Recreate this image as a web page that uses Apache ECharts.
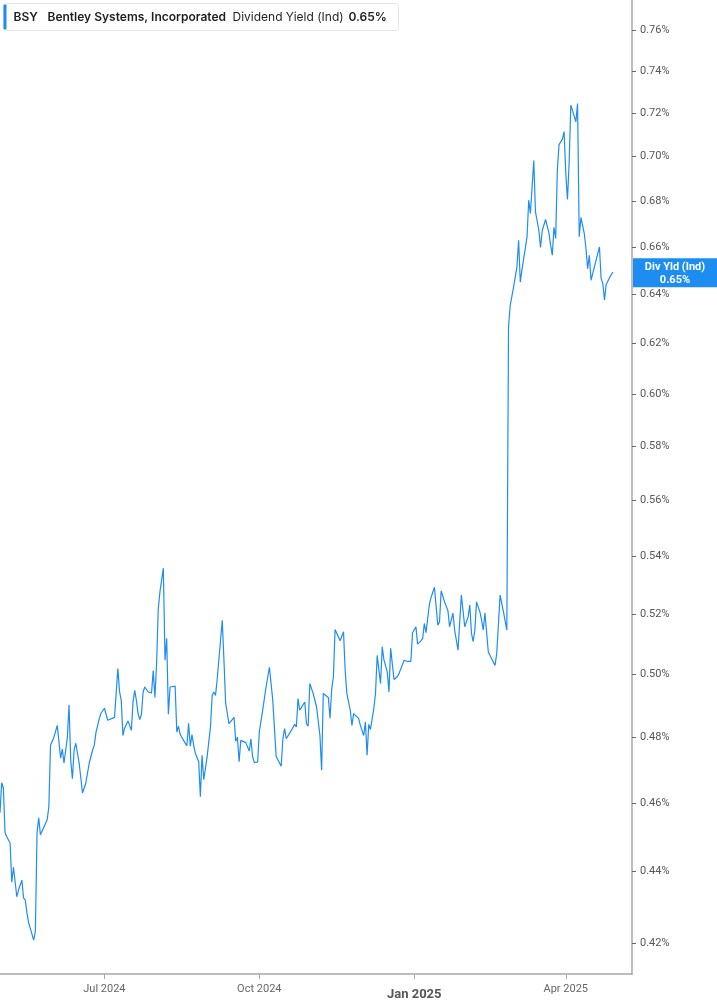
<!DOCTYPE html>
<html>
<head>
<meta charset="utf-8">
<title>BSY Dividend Yield</title>
<script src="https://cdn.jsdelivr.net/npm/echarts@6/dist/echarts.min.js"></script>
<style>
  html, body { margin: 0; padding: 0; background: #fff; }
  #chart { width: 717px; height: 1005px; }
</style>
</head>
<body>
<div id="chart"></div>
<script>
// dividend yield (ind), in percent
const dates = [
  '2024-04-30','2024-05-01','2024-05-02','2024-05-03','2024-05-04','2024-05-06','2024-05-07','2024-05-08','2024-05-10','2024-05-11',
  '2024-05-13','2024-05-14','2024-05-15','2024-05-16','2024-05-17','2024-05-20','2024-05-21','2024-05-22','2024-05-23','2024-05-24',
  '2024-05-28','2024-05-29','2024-05-30','2024-05-31','2024-06-01','2024-06-03','2024-06-04','2024-06-05','2024-06-06','2024-06-07',
  '2024-06-09','2024-06-10','2024-06-11','2024-06-12','2024-06-13','2024-06-14','2024-06-16','2024-06-17','2024-06-18','2024-06-20',
  '2024-06-21','2024-06-22','2024-06-24','2024-06-25','2024-06-26','2024-06-28','2024-06-29','2024-07-01','2024-07-03','2024-07-04',
  '2024-07-07','2024-07-08','2024-07-09','2024-07-10','2024-07-11','2024-07-12','2024-07-13','2024-07-15','2024-07-17','2024-07-18',
  '2024-07-19','2024-07-20','2024-07-21','2024-07-22','2024-07-23','2024-07-24','2024-07-25','2024-07-27','2024-07-29','2024-07-30',
  '2024-07-31','2024-08-01','2024-08-02','2024-08-03','2024-08-05','2024-08-06','2024-08-07','2024-08-08','2024-08-09','2024-08-12',
  '2024-08-13','2024-08-14','2024-08-15','2024-08-17','2024-08-19','2024-08-20','2024-08-21','2024-08-22','2024-08-23','2024-08-24',
  '2024-08-26','2024-08-27','2024-08-28','2024-08-29','2024-08-30','2024-08-31','2024-09-02','2024-09-03','2024-09-04','2024-09-05',
  '2024-09-06','2024-09-09','2024-09-10','2024-09-11','2024-09-12','2024-09-13','2024-09-16','2024-09-17','2024-09-18','2024-09-19',
  '2024-09-20','2024-09-23','2024-09-24','2024-09-25','2024-09-26','2024-09-27','2024-09-28','2024-09-30','2024-10-01','2024-10-02',
  '2024-10-03','2024-10-05','2024-10-07','2024-10-09','2024-10-11','2024-10-14','2024-10-15','2024-10-16','2024-10-17','2024-10-20',
  '2024-10-22','2024-10-23','2024-10-24','2024-10-25','2024-10-28','2024-10-29','2024-10-30','2024-10-31','2024-11-02','2024-11-04',
  '2024-11-06','2024-11-07','2024-11-08','2024-11-11','2024-11-12','2024-11-13','2024-11-14','2024-11-15','2024-11-17','2024-11-18',
  '2024-11-20','2024-11-21','2024-11-22','2024-11-24','2024-11-25','2024-11-26','2024-11-27','2024-11-29','2024-11-30','2024-12-02',
  '2024-12-03','2024-12-04','2024-12-05','2024-12-06','2024-12-08','2024-12-09','2024-12-10','2024-12-11','2024-12-12','2024-12-13',
  '2024-12-14','2024-12-16','2024-12-17','2024-12-18','2024-12-20','2024-12-22','2024-12-23','2024-12-24','2024-12-26','2024-12-28',
  '2024-12-30','2024-12-31','2025-01-02','2025-01-03','2025-01-05','2025-01-06','2025-01-07','2025-01-08','2025-01-10','2025-01-11',
  '2025-01-13','2025-01-15','2025-01-16','2025-01-17','2025-01-19','2025-01-21','2025-01-22','2025-01-24','2025-01-25','2025-01-27',
  '2025-01-29','2025-01-31','2025-02-02','2025-02-03','2025-02-04','2025-02-05','2025-02-06','2025-02-07','2025-02-09','2025-02-10',
  '2025-02-11','2025-02-12','2025-02-14','2025-02-16','2025-02-18','2025-02-19','2025-02-21','2025-02-23','2025-02-25','2025-02-26',
  '2025-02-27','2025-02-28','2025-03-01','2025-03-03','2025-03-04','2025-03-05','2025-03-06','2025-03-07','2025-03-09','2025-03-10',
  '2025-03-11','2025-03-13','2025-03-14','2025-03-16','2025-03-17','2025-03-18','2025-03-19','2025-03-20','2025-03-22','2025-03-23',
  '2025-03-24','2025-03-25','2025-03-26','2025-03-27','2025-03-28','2025-03-30','2025-03-31','2025-04-01','2025-04-02','2025-04-03',
  '2025-04-04','2025-04-05','2025-04-07','2025-04-08','2025-04-09','2025-04-10','2025-04-12','2025-04-13','2025-04-14','2025-04-15',
  '2025-04-16','2025-04-17','2025-04-19','2025-04-21','2025-04-22','2025-04-23','2025-04-24','2025-04-25','2025-04-27','2025-04-29'
]

const yields = [
  0.4571,0.4661,0.4645,0.4512,0.4500,0.4482,0.4369,0.4412,0.4328,0.4347,
  0.4375,0.4325,0.4319,0.4283,0.4256,0.4208,0.4231,0.4512,0.4556,0.4506,
  0.4550,0.4588,0.4776,0.4776,0.4800,0.4838,0.4832,0.4736,0.4764,0.4721,
  0.4800,0.4902,0.4730,0.4673,0.4761,0.4782,0.4721,0.4676,0.4630,0.4661,
  0.4655,0.4721,0.4761,0.4776,0.4816,0.4860,0.4876,0.4892,0.4854,0.4851,
  0.4863,0.4864,0.5020,0.4945,0.4917,0.4806,0.4829,0.4852,0.4822,0.4912,
  0.4949,0.4917,0.4875,0.4856,0.4873,0.4944,0.4960,0.4944,0.4941,0.5013,
  0.4926,0.5036,0.5220,0.5277,0.5358,0.5047,0.5119,0.4873,0.4960,0.4963,
  0.4817,0.4835,0.4810,0.4791,0.4774,0.4844,0.4773,0.4809,0.4776,0.4751,
  0.4725,0.4619,0.4745,0.4670,0.4665,0.4740,0.4833,0.4933,0.4944,0.4933,
  0.4986,0.5180,0.5047,0.4908,0.4908,0.4843,0.4863,0.4788,0.4801,0.4725,
  0.4791,0.4784,0.4781,0.4758,0.4796,0.4741,0.4723,0.4724,0.4817,0.4812,
  0.4886,0.4960,0.5024,0.4917,0.4741,0.4711,0.4796,0.4828,0.4796,0.4822,
  0.4841,0.4833,0.4923,0.4886,0.4912,0.4843,0.4835,0.4971,0.4939,0.4896,
  0.4806,0.4699,0.4939,0.4926,0.4860,0.4955,0.4992,0.5149,0.5124,0.5111,
  0.5141,0.5013,0.4939,0.4886,0.4838,0.4875,0.4878,0.4860,0.4838,0.4806,
  0.4849,0.4745,0.4841,0.4825,0.4891,0.4939,0.5063,0.5069,0.4971,0.5091,
  0.5049,0.5008,0.4944,0.5086,0.4984,0.4994,0.5004,0.5000,0.5047,0.5043,
  0.5043,0.5138,0.5158,0.5100,0.5111,0.5119,0.5169,0.5138,0.5234,0.5257,
  0.5292,0.5163,0.5174,0.5280,0.5242,0.5213,0.5158,0.5204,0.5147,0.5080,
  0.5265,0.5158,0.5191,0.5231,0.5136,0.5108,0.5147,0.5242,0.5208,0.5180,
  0.5147,0.5204,0.5074,0.5052,0.5030,0.5069,0.5265,0.5208,0.5147,0.6267,
  0.6355,0.6362,0.6431,0.6516,0.6630,0.6452,0.6505,0.6509,0.6645,0.6805,
  0.6747,0.6983,0.6754,0.6674,0.6599,0.6671,0.6667,0.6720,0.6662,0.6609,
  0.6566,0.6686,0.6638,0.6941,0.7055,0.7080,0.7115,0.6926,0.6808,0.6971,
  0.7238,0.7214,0.7160,0.7246,0.6645,0.6729,0.6659,0.6595,0.6509,0.6566,
  0.6460,0.6488,0.6545,0.6601,0.6467,0.6446,0.6378,0.6442,0.6471,0.6495
]

const yTicks = [0.42, 0.44, 0.46, 0.48, 0.50, 0.52, 0.54, 0.56, 0.58, 0.60, 0.62, 0.64, 0.66, 0.68, 0.70, 0.72, 0.74, 0.76]
const xTicks = ['2024-07-01', '2024-10-01', '2025-01-01', '2025-04-01']
const monthNames = ['Jan', 'Feb', 'Mar', 'Apr', 'May', 'Jun', 'Jul', 'Aug', 'Sep', 'Oct', 'Nov', 'Dec']

const lastYield = 0.65
const blue = '#1e8df2'

let chart = echarts.init(document.getElementById('chart'))

// dates to timestamps for a plain value axis
let seriesData = []
for (let i = 0; i < dates.length; i++) {
  seriesData.push([Date.parse(dates[i]), yields[i]])
}
let xTickTimes = xTicks.map(function (d) { return Date.parse(d) })

let headerGraphic = {
  type: 'group',
  left: 3,
  top: 3,
  children: [
    {
      type: 'rect',
      shape: { x: 0, y: 0, width: 395, height: 27, r: 3 },
      style: { fill: '#fff', stroke: '#e4e4e4', lineWidth: 1 }
    },
    {
      type: 'rect',
      shape: { x: 0, y: 1, width: 3, height: 25, r: 1 },
      style: { fill: blue }
    },
    {
      type: 'text',
      x: 10, y: 14,
      style: { text: 'BSY', fill: '#1e1e1e', font: '600 12px Inter', verticalAlign: 'middle' }
    },
    {
      type: 'text',
      x: 44, y: 14,
      style: { text: 'Bentley Systems, Incorporated', fill: '#1e1e1e', font: '600 12px Inter', verticalAlign: 'middle' }
    },
    {
      type: 'text',
      x: 229, y: 14,
      style: { text: 'Dividend Yield (Ind)', fill: '#1e1e1e', font: '400 12px Inter', verticalAlign: 'middle' }
    },
    {
      type: 'text',
      x: 345, y: 14,
      style: { text: '0.65%', fill: '#1e1e1e', font: '600 12px Inter', verticalAlign: 'middle' }
    }
  ]
}

option = {
  animation: false,
  grid: {
    left: 0,
    right: 85,
    top: 0,
    bottom: 31
  },
  xAxis: {
    type: 'value',
    min: Date.parse('2024-04-30'),
    max: Date.parse('2025-05-10T08:00:00Z'),
    splitLine: { show: false },
    axisLine: { show: true, lineStyle: { color: '#a8a8a8', width: 1.5 } },
    axisTick: {
      show: true,
      length: 5,
      customValues: xTickTimes,
      lineStyle: { color: '#a8a8a8', width: 1 }
    },
    axisLabel: {
      customValues: xTickTimes,
      margin: 10,
      color: '#666',
      fontSize: 11,
      fontFamily: 'Roboto',
      formatter: function (value) {
        let d = new Date(value)
        let text = monthNames[d.getUTCMonth()] + ' ' + d.getUTCFullYear()
        if (d.getUTCMonth() === 0) {
          return '{b|' + text + '}'
        }
        return text
      },
      rich: {
        b: { fontSize: 13, fontWeight: 'bold', color: '#555', fontFamily: 'Roboto', padding: [4, 0, 0, 0] }
      }
    }
  },
  yAxis: {
    type: 'log',
    position: 'right',
    min: 0.41163,
    max: 0.775,
    splitLine: { show: false },
    axisLine: { show: true, lineStyle: { color: '#a8a8a8', width: 1.5 } },
    axisTick: {
      show: true,
      length: 4,
      customValues: yTicks,
      lineStyle: { color: '#666', width: 1 }
    },
    axisLabel: {
      customValues: yTicks,
      margin: 8,
      color: '#555',
      fontSize: 11,
      fontFamily: 'Roboto',
      formatter: function (value) {
        return value.toFixed(2) + '%'
      }
    }
  },
  graphic: [headerGraphic],
  series: [
    {
      name: 'Div Yld (Ind)',
      type: 'line',
      showSymbol: false,
      symbol: 'none',
      lineStyle: { color: blue, width: 1.2 },
      itemStyle: { color: blue },
      data: seriesData
    }
  ]
}

chart.setOption(option)

// last value tag on the right axis, placed at the axis position of lastYield
let tagY = chart.convertToPixel({ yAxisIndex: 0 }, lastYield)
let tagX = chart.convertToPixel({ xAxisIndex: 0 }, Date.parse('2025-05-10T08:00:00Z'))

chart.setOption({
  graphic: [
    headerGraphic,
    {
      type: 'group',
      x: tagX + 1,
      y: tagY + 2,
      children: [
        {
          type: 'rect',
          shape: { x: 0, y: -14.5, width: 84, height: 29 },
          style: { fill: blue }
        },
        {
          type: 'text',
          x: 42, y: -6,
          style: { text: 'Div Yld (Ind)', fill: '#fff', font: 'bold 11px Roboto', align: 'center', verticalAlign: 'middle' }
        },
        {
          type: 'text',
          x: 42, y: 7,
          style: { text: lastYield.toFixed(2) + '%', fill: '#fff', font: 'bold 11px Roboto', align: 'center', verticalAlign: 'middle' }
        }
      ]
    }
  ]
})
</script>
</body>
</html>
